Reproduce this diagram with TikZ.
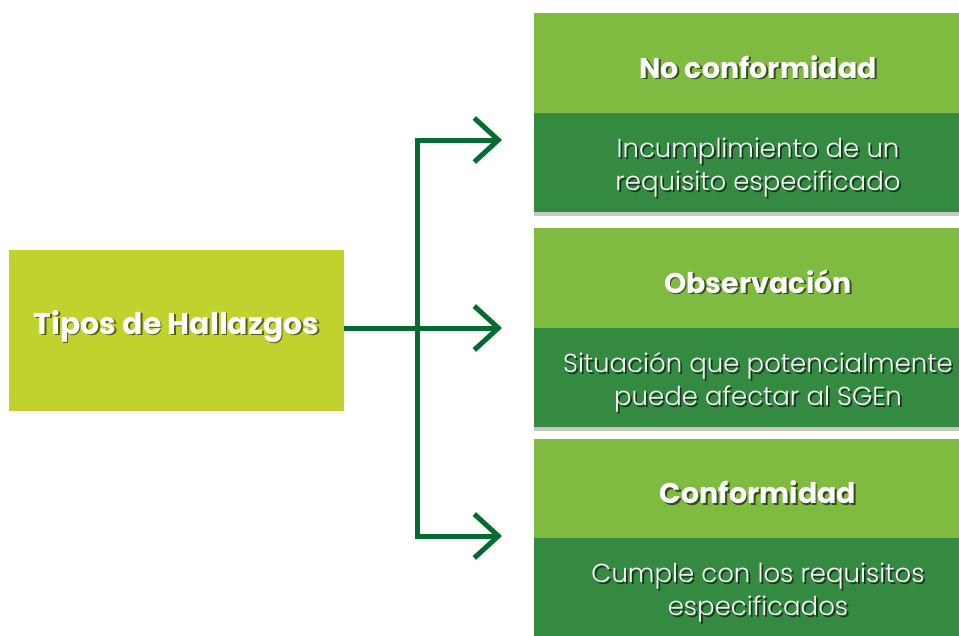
\documentclass[tikz,border=0pt]{standalone}
\usepackage{fontspec}
\newfontfamily\popfont{Poppins}
\newfontfamily\poplight{Poppins Light}
\usetikzlibrary{arrows.meta,shadows}
\definecolor{srcg}{HTML}{C1D22F}
\definecolor{lightg}{HTML}{80BB41}
\definecolor{darkg}{HTML}{338A40}
\definecolor{lineg}{HTML}{066A33}
\newcommand{\shd}[2]{\rlap{\kern1.8pt\raisebox{-1.8pt}{\textcolor{#1}{#2}}}#2}
\newcommand{\topstrut}{\rule{0pt}{32pt}}
\begin{document}
\begin{tikzpicture}[x=1pt,y=-1pt,
  srcbox/.style={fill=srcg, minimum width=335pt, minimum height=161pt,
    inner sep=0pt, outer sep=0pt, text=white,
    font=\popfont\bfseries\fontsize{30}{36}\selectfont,
    text height=14pt, text depth=7pt},
  titlebox/.style={fill=lightg, minimum width=448pt, minimum height=100pt,
    inner sep=0pt, outer sep=0pt, text=white,
    font=\popfont\bfseries\fontsize{28.5}{34}\selectfont,
    text height=30pt, text depth=0pt},
  descbox/.style={fill=darkg, minimum width=448pt, minimum height=99pt,
    inner sep=0pt, outer sep=0pt, text=white, align=center,
    font=\poplight\fontsize{26}{33}\selectfont,
    drop shadow={shadow xshift=0pt, shadow yshift=-4pt, opacity=0.22, fill=black}},
  conn/.style={draw=lineg, line width=5pt, line join=miter,
    -{Straight Barb[length=24pt, width=44pt]}}
]
\useasboundingbox (0,0) rectangle (959,635);
\fill[white] (0,0) rectangle (959,635);

% source
\node[srcbox] (src) at (176.5,330.5) {\shd{srcg!45!black}{Tipos de Hallazgos}};

% right column
\node[titlebox] (t1) at (758,63) {\shd{lightg!40!black}{No conformidad}};
\node[descbox] (d1) at (758,162.5) {\topstrut\shd{darkg!40!black}{Incumplimiento de un}\\\shd{darkg!40!black}{requisito especificado}};

\node[titlebox] (t2) at (758,278) {\shd{lightg!40!black}{Observación}};
\node[descbox] (d2) at (758,377.5) {\topstrut\shd{darkg!40!black}{Situación que potencialmente}\\\shd{darkg!40!black}{puede afectar al SGEn}};

\node[titlebox] (t3) at (758,488.5) {\shd{lightg!40!black}{Conformidad}};
\node[descbox] (d3) at (758,587.5) {\topstrut\shd{darkg!40!black}{Cumple con los requisitos}\\\shd{darkg!40!black}{especificados}};

% connectors
\coordinate (jm) at (417,328);
\coordinate (a1) at (502,140);
\coordinate (a2) at (502,328);
\coordinate (a3) at (502,536);
\draw[conn] (src.east |- a2) -- (a2);
\draw[conn] (jm) |- (a1);
\draw[conn] (jm) |- (a3);
\end{tikzpicture}
\end{document}
